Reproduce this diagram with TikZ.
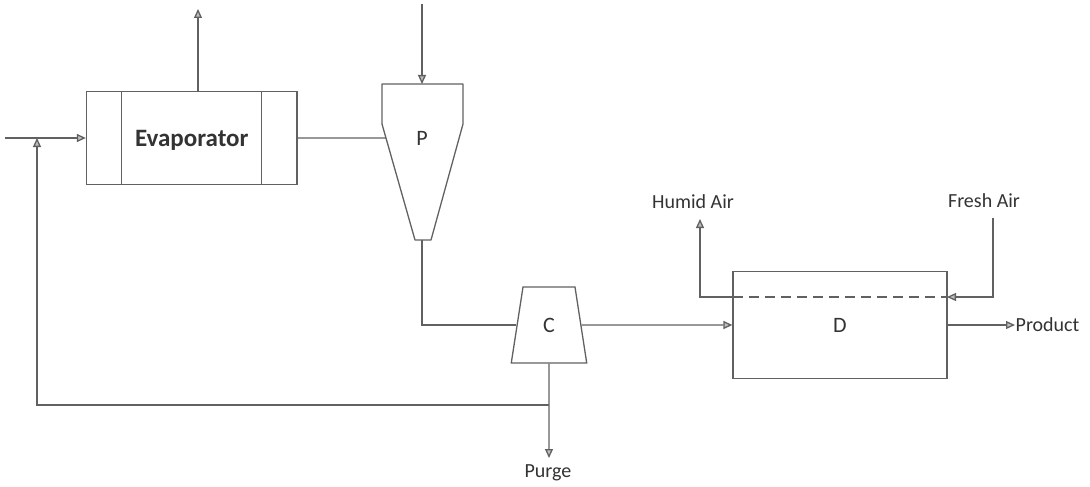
\documentclass[tikz,border=0pt]{standalone}
\usepackage{fontspec}
\setmainfont{Carlito}
\usetikzlibrary{arrows.meta,shapes.geometric}
\colorlet{linec}{black!62}
\colorlet{textc}{black!80}
\begin{document}
\begin{tikzpicture}[x=1pt,y=-1pt,line width=1.3pt,draw=linec,text=textc,
    flow/.style={-{Triangle[open,length=9pt,width=8pt,fill=black!25]}},
    lbl/.style={font=\fontsize{20}{24}\selectfont,inner sep=0pt},
    unit/.style={draw,rectangle,inner sep=0pt}]
  \useasboundingbox (0,0) rectangle (1090,487);
  % units
  \node[unit,minimum width=210.5pt,minimum height=93pt,text depth=0pt,font=\fontsize{25}{29}\selectfont\bfseries]
    (evap) at (191.75,138) {Evaporator};
  \foreach \s in {35.5,175.5}
    \draw ([xshift=\s pt]evap.north west) -- ([xshift=\s pt]evap.south west);
  \node[lbl,font=\fontsize{22}{26}\selectfont] (P) at (422,138) {P};
  \draw[line join=round] (382,84) -- (463,84) -- (463,124) -- (431,240) -- (415,240)
    -- coordinate[pos=.88] (Pw) (382,124) -- cycle;
  \coordinate (Ptop) at (422,84);
  \coordinate (Pbot) at (422,240);
  \node[draw,trapezium,trapezium angle=79.6,minimum width=75.5pt,minimum height=76pt,
    inner sep=0pt,trapezium stretches=true,lbl,font=\fontsize{22}{26}\selectfont] (C) at (549,325) {C};
  \node[unit,lbl,font=\fontsize{22}{26}\selectfont,minimum width=214pt,minimum height=107pt] (D) at (840,325) {D};
  % free ends and labels
  \coordinate (feedin) at (5,138);
  \coordinate (vapour) at (198,9);
  \coordinate (slurry) at (422,4);
  \coordinate (join) at (37,138);
  \coordinate (split) at (549,405);
  \node[lbl] (purge) at (548,473) {Purge};
  \node[lbl] (humid) at (693,202) {Humid Air};
  \node[lbl] (fresh) at (984,201) {Fresh Air};
  \node[lbl,anchor=west] (product) at (1015,325) {Product};
  \coordinate (Dw) at (733,297);
  \coordinate (De) at (947,297);
  % streams
  \draw[flow] (feedin) -- (evap.west);
  \draw[flow] (198,91) -- (vapour);
  \draw[flow] (slurry) -- (Ptop);
  \draw (evap.east) -- (Pw);
  \draw (Pbot) |- (C.west);
  \draw[flow] (C.east) -- (D.west);
  \draw[flow] (C.south) -- (split) -- (549,458);
  \draw[flow] (split) -| (join);
  \draw[flow] (Dw) -| (700,219);
  \draw[flow] (993,218) |- (De);
  \draw[dashed,dash pattern=on 10pt off 6pt] (Dw) -- (De);
  \draw[flow] (D.east) -- (product.west);
\end{tikzpicture}
\end{document}
